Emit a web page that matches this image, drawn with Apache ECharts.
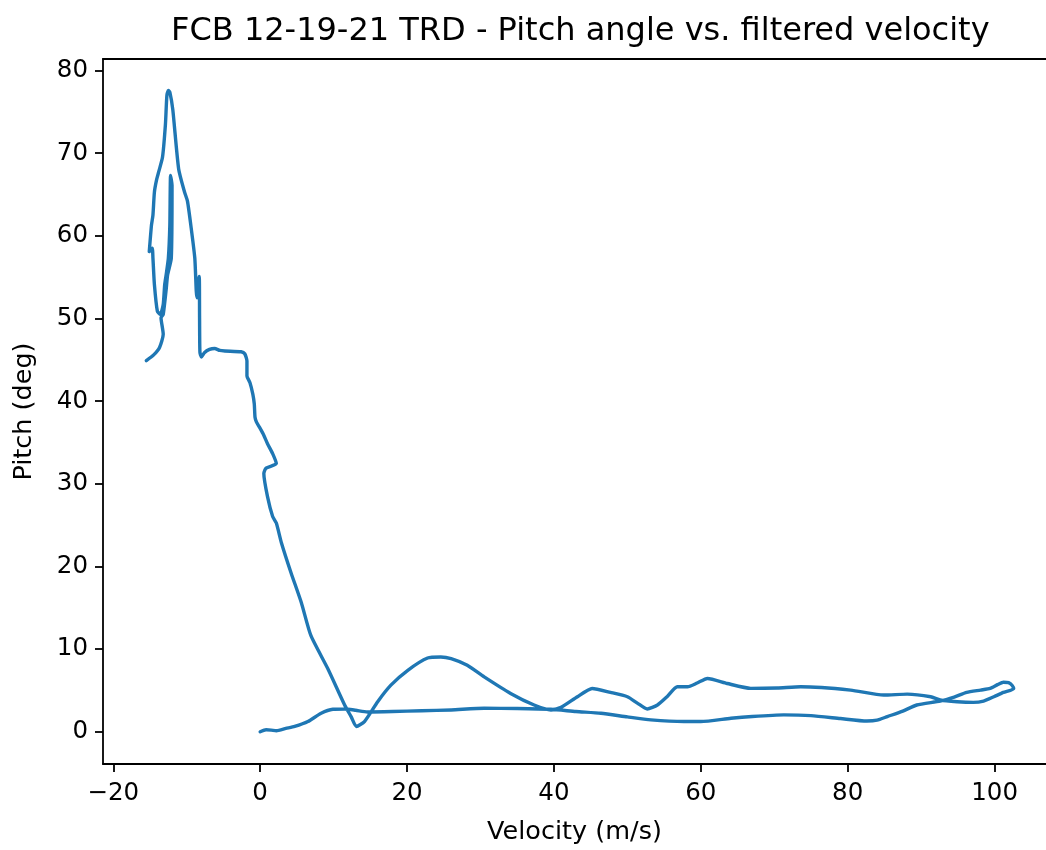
<!DOCTYPE html>
<html>
<head>
<meta charset="utf-8">
<script src="https://cdn.jsdelivr.net/npm/echarts@6/dist/echarts.min.js"></script>
<style>
html,body{margin:0;padding:0;background:#fff;}
#chart{width:1046px;height:850px;}
</style>
</head>
<body>
<div id="chart"></div>
<script>
// Powered ascent (velocity m/s, pitch deg)
const ascentVelocity = [0, 0.8, 1.5, 2.2, 3.5, 4.7, 6.5, 8.3, 9.9, 11.5, 13.0, 14.6, 18.0, 22.0, 26.0, 30.5, 35.0, 39.6, 43.0, 46.4, 50.0, 53.2, 57.7, 60.0, 64.1, 67.0, 71.3, 75.0, 79.0, 82.6, 84.0, 85.4, 87.5, 89.4, 92.6, 94.5, 96.2, 98.1, 99.4, 100.4, 101.2, 101.9, 102.4, 102.6];
const ascentPitch    = [0, 0.24, 0.2, 0.12, 0.4, 0.64, 1.24, 2.24, 2.72, 2.75, 2.6, 2.4, 2.45, 2.55, 2.64, 2.84, 2.82, 2.72, 2.45, 2.24, 1.8, 1.44, 1.24, 1.24, 1.64, 1.85, 2.04, 1.95, 1.6, 1.3, 1.4, 1.84, 2.5, 3.24, 3.72, 4.2, 4.76, 5.04, 5.24, 5.7, 6.0, 5.95, 5.6, 5.2];

// Coast back down in velocity
const coastVelocity = [101.2, 99.9, 98.5, 97.1, 94.9, 92.6, 91.3, 88.1, 84.9, 80.4, 73.6, 70.4, 66.8, 63.6, 60.9, 59.5, 58.2, 56.8, 55.4, 54.1, 52.7, 51.4, 50.0, 47.7, 45.2, 43.2, 40.9, 39.6, 37.3, 34.1, 30.5, 28.2, 26.0, 24.6, 22.8, 20.1, 17.8, 16.0, 14.2, 13.1, 12.4, 11.5, 9.2, 6.9, 5.6, 4.2, 2.9, 2.2, 1.7, 1.0, 0.5];
const coastPitch    = [4.76, 4.24, 3.72, 3.56, 3.64, 3.84, 4.24, 4.56, 4.44, 5.04, 5.44, 5.3, 5.25, 5.84, 6.45, 5.9, 5.44, 5.44, 4.24, 3.24, 2.76, 3.44, 4.24, 4.76, 5.24, 4.24, 2.92, 2.64, 3.24, 4.64, 6.64, 8.04, 8.84, 9.04, 8.92, 7.44, 5.64, 3.64, 1.24, 0.64, 1.8, 3.24, 7.65, 11.65, 15.64, 19.25, 22.85, 25.25, 26.05, 28.45, 31.25];

// Apogee region (negative velocity)
const apogeeVelocity = [0.8, 2.2, 1.7, 1.0, 0.4, -0.1, -0.5, -0.7, -0.8, -1.0, -1.4, -1.8, -1.8, -2.1, -2.6, -4.8, -5.5, -6.2, -6.9, -7.6, -8.0, -8.2, -8.25, -8.3, -8.6, -8.7, -8.9, -9.4, -9.9, -10.3, -11.1, -11.9, -12.3, -12.5, -12.7, -12.9, -13.3, -13.8, -14.1, -14.4, -14.6, -14.8, -15.1, -14.7, -14.6, -14.4, -14.0, -13.6, -13.2, -13.0, -12.8, -12.5, -12.3, -12.2, -12.0, -12.1, -12.6, -12.8, -13.2, -13.5, -13.2, -13.7, -14.5, -15.5];
const apogeePitch    = [31.9, 32.45, 33.65, 34.85, 36.05, 36.86, 37.46, 38.06, 39.66, 40.86, 42.26, 43.06, 44.86, 45.74, 45.98, 46.07, 46.14, 46.38, 46.26, 45.86, 45.34, 45.9, 50.0, 55.1, 52.5, 53.3, 57.3, 61.0, 64.2, 65.3, 68.1, 75.3, 77.4, 77.6, 77.0, 73.5, 69.5, 67.8, 66.8, 65.3, 62.5, 61.3, 58.1, 58.5, 57.3, 54.1, 50.9, 50.5, 51.7, 54.1, 55.3, 57.3, 61.3, 67.3, 66.1, 57.3, 55.3, 53.5, 50.5, 50.1, 48.1, 46.5, 45.6, 44.9];

const xTicks = [-20, 0, 20, 40, 60, 80, 100];
const yTicks = [0, 10, 20, 30, 40, 50, 60, 70, 80];

const path = [];
[[ascentVelocity, ascentPitch], [coastVelocity, coastPitch], [apogeeVelocity, apogeePitch]].forEach(([vs, ps]) => {
  vs.forEach((v, i) => path.push([v, ps[i]]));
});

const font = "'DejaVu Sans', sans-serif";
const fmt = v => String(v).replace('-', '\u2212');
const X_MIN = -21.4, X_MAX = 107.0;

const chart = echarts.init(document.getElementById('chart'), null, {renderer: 'canvas'});
chart.setOption({
  backgroundColor: '#ffffff',
  animation: false,
  title: {
    text: 'FCB 12-19-21 TRD - Pitch angle vs. filtered velocity',
    left: 171, top: 16, padding: 0,
    textStyle: {fontFamily: font, fontSize: 32, fontWeight: 'normal', color: '#000'}
  },
  grid: {
    left: 103, top: 59, right: 0, bottom: 80.5,
    show: false, containLabel: false
  },
  xAxis: [{
    type: 'value', min: X_MIN, max: X_MAX,
    name: 'Velocity (m/s)', nameLocation: 'middle', nameGap: 55,
    nameTextStyle: {fontFamily: font, fontSize: 25.5, color: '#000'},
    axisLine: {show: true, onZero: false, lineStyle: {color: '#000', width: 1.8}},
    axisTick: {show: true, inside: false, length: 8, lineStyle: {color: '#000', width: 1.8}, customValues: xTicks},
    axisLabel: {show: true, margin: 17, fontFamily: font, fontSize: 24.5, color: '#000', customValues: xTicks, formatter: fmt},
    splitLine: {show: false}
  }, {
    type: 'value', min: X_MIN, max: X_MAX, position: 'top',
    axisLine: {show: true, onZero: false, lineStyle: {color: '#000', width: 1.8}},
    axisTick: {show: false}, axisLabel: {show: false}, splitLine: {show: false}
  }],
  yAxis: {
    type: 'value', min: -3.9, max: 81.4,
    name: 'Pitch (deg)', nameLocation: 'middle', nameGap: 66, nameRotate: 90,
    nameTextStyle: {fontFamily: font, fontSize: 25.5, color: '#000'},
    axisLine: {show: true, onZero: false, lineStyle: {color: '#000', width: 1.8}},
    axisTick: {show: true, inside: false, length: 8, lineStyle: {color: '#000', width: 1.8}, customValues: yTicks},
    axisLabel: {show: true, margin: 15, fontFamily: font, fontSize: 24.5, color: '#000', customValues: yTicks, formatter: fmt},
    splitLine: {show: false}
  },
  series: [{
    type: 'line',
    xAxisIndex: 0,
    data: path,
    showSymbol: false,
    smooth: 0.2,
    clip: true,
    lineStyle: {color: '#1f77b4', width: 3.4, cap: 'round', join: 'round'}
  }]
});
</script>
</body>
</html>
